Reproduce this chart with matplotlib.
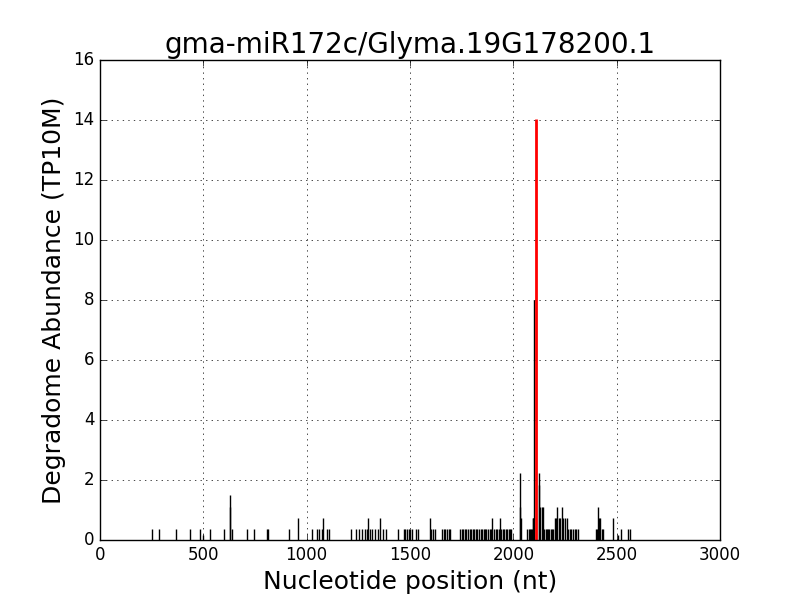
import matplotlib
matplotlib.use("Agg")
import matplotlib.pyplot as plt

# degradome reads (position in nt, abundance in TP10M)
positions = [
    253, 285, 366, 436, 484, 500, 532, 600, 627, 630, 637, 710, 745, 808, 813,
    915, 960, 1027, 1049, 1060, 1073, 1081, 1100, 1110,
    1215, 1239, 1253, 1266, 1282, 1291, 1297, 1307, 1315, 1331, 1344, 1355, 1371, 1383, 1441,
    1470, 1478, 1486, 1494, 1502, 1508, 1529, 1541, 1597, 1604, 1612, 1620,
    1655, 1663, 1670, 1680, 1688, 1694,
    1744, 1750, 1757, 1764, 1771, 1782, 1789, 1796, 1803, 1810, 1817, 1823,
    1835, 1842, 1849, 1856, 1863, 1870, 1879, 1886, 1893, 1898,
    1908, 1915, 1922, 1929, 1936, 1942, 1949, 1956, 1963, 1970, 1977, 1984, 1991,
    2030, 2034, 2037, 2068, 2074, 2080, 2086, 2090, 2094, 2097, 2101,
    2122, 2126, 2131, 2137, 2143,
    2150, 2156, 2162, 2168, 2174, 2180, 2187, 2194,
    2202, 2207, 2213, 2221, 2226, 2234, 2242, 2250, 2258,
    2266, 2274, 2281, 2288, 2296, 2304, 2312,
    2400, 2405, 2411, 2416, 2420, 2427, 2433,
    2484, 2506, 2520, 2557, 2565,
]
abundance = [
    0.37, 0.37, 0.37, 0.37, 0.37, 0.18, 0.37, 0.37, 1.5, 1.11, 0.37, 0.37, 0.37, 0.37, 0.37,
    0.37, 0.74, 0.37, 0.37, 0.37, 0.37, 0.74, 0.37, 0.37,
    0.37, 0.37, 0.37, 0.37, 0.37, 0.37, 0.74, 0.37, 0.37, 0.37, 0.37, 0.74, 0.37, 0.37, 0.37,
    0.37, 0.37, 0.37, 0.37, 0.37, 0.37, 0.37, 0.37, 0.74, 0.37, 0.37, 0.37,
    0.37, 0.37, 0.37, 0.37, 0.37, 0.37,
    0.37, 0.37, 0.37, 0.37, 0.37, 0.37, 0.37, 0.37, 0.37, 0.37, 0.37, 0.37,
    0.37, 0.37, 0.37, 0.37, 0.37, 0.37, 0.37, 0.37, 0.37, 0.74,
    0.37, 0.37, 0.37, 0.37, 0.74, 0.37, 0.37, 0.37, 0.37, 0.37, 0.37, 0.37, 0.37,
    2.25, 1.11, 0.74, 0.37, 0.37, 0.37, 0.37, 0.37, 0.74, 0.74, 8.0,
    2.25, 1.85, 1.11, 1.11, 1.11,
    0.37, 0.37, 0.37, 0.37, 0.37, 0.37, 0.37, 0.37,
    0.74, 0.74, 1.11, 0.74, 0.74, 1.11, 0.74, 0.74, 0.74,
    0.37, 0.37, 0.37, 0.37, 0.37, 0.37, 0.37,
    0.37, 0.37, 1.11, 0.74, 0.74, 0.37, 0.37,
    0.74, 0.18, 0.37, 0.37, 0.37,
]

# predicted cleavage site
site_pos = [2111]
site_abundance = [14.05]

plt.style.use("classic")
fig = plt.figure(figsize=(8, 6))
ax = fig.add_subplot(111)

ax.vlines(positions, 0, abundance, colors="k", linewidth=1)
ax.vlines(site_pos, 0, site_abundance, colors="r", linewidth=2)

ax.set_xlim(0, 3000)
ax.set_ylim(0, 16)
ax.grid(True)
ax.set_title("gma-miR172c/Glyma.19G178200.1", fontsize=20)
ax.set_xlabel("Nucleotide position (nt)", fontsize=18)
ax.set_ylabel("Degradome Abundance (TP10M)", fontsize=18)

fig.savefig("out.png", dpi=100)
